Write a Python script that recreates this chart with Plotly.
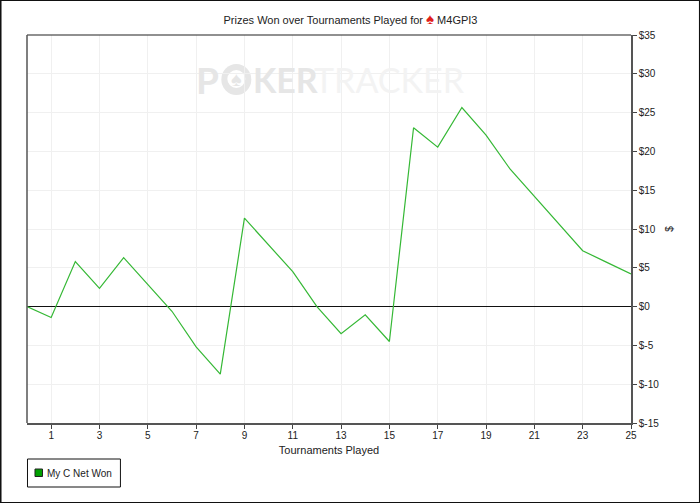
import plotly.graph_objects as go

tournaments = list(range(26))
net_won = [0, -1.4, 5.8, 2.35, 6.3, 2.9, -0.6, -5.2, -8.7, 11.4, 8.0, 4.5, 0, -3.5, -1.05,
           -4.5, 23.05, 20.55, 25.65, 22.1, 17.7, 14.2, 10.7, 7.2, 5.7, 4.2]
x_ticks = list(range(1, 26, 2))
y_ticks = list(range(-15, 40, 5))
y_labels = [f"$-{abs(v)}" if v < 0 else f"${v}" for v in y_ticks]
series_name = "My C Net Won"

FONT = "Liberation Sans"
W, H = 700, 503
L, R, T, B = 26.5, 631, 35, 423


def px(x):
    return (x - L) / (R - L)


def py(y):
    return (B - y) / (B - T)


def rect(x0, y0, x1, y1, **kw):
    return dict(type="rect", xref="paper", yref="paper", x0=px(x0), x1=px(x1),
                y0=py(y1), y1=py(y0), **kw)


fig = go.Figure()
fig.add_trace(go.Scatter(x=tournaments, y=net_won, mode="lines", name=series_name, showlegend=False,
                         line=dict(color="#35b835", width=1.2), hoverinfo="skip"))

WM_Y = py(79)
WM_DARK = "#e6e6e6"
WM_LIGHT = "#f3f3f3"
wm = dict(xref="paper", yref="paper", y=WM_Y, xanchor="left", yanchor="middle", showarrow=False)

fig.update_layout(
    width=W, height=H, autosize=False,
    margin=dict(l=L, r=W - R, t=T, b=H - B),
    paper_bgcolor="white", plot_bgcolor="white",
    showlegend=False,
    font=dict(family=FONT, size=10, color="#222222"),
    title=dict(text='Prizes Won over Tournaments Played for '
                    '<span style="color:#e0201b;font-size:15px">♠</span> M4GPI3',
               x=350.5 / W, xanchor="center", y=1 - 20 / H, yanchor="middle", font=dict(size=11)),
    xaxis=dict(range=[0, 25], tickvals=x_ticks, ticks="outside", ticklen=4, tickcolor="#444444",
               ticklabelstandoff=-2,
               showgrid=True, gridcolor="#f0f0f0", gridwidth=1, zeroline=False,
               showline=True, linecolor="#555555", linewidth=1.5,
               title=dict(text="Tournaments Played", standoff=7, font=dict(size=11))),
    yaxis=dict(range=[-15, 35], tickvals=y_ticks, ticktext=y_labels, side="right",
               ticks="outside", ticklen=4, tickcolor="#444444",
               showgrid=True, gridcolor="#f0f0f0", gridwidth=1,
               zeroline=True, zerolinecolor="#111111", zerolinewidth=1,
               showline=True, linecolor="#555555", linewidth=1.5,
               title=dict(text="$", standoff=8, font=dict(size=10))),
    annotations=[
        dict(text="<b>P</b>", x=px(194), font=dict(size=37, color=WM_DARK, family="Lato"), **wm),
        dict(text="<b>KER</b>", x=px(251), font=dict(size=34, color=WM_DARK, family="Lato"), **wm),
        dict(text="TRACKER", x=px(312), font=dict(size=34, color=WM_LIGHT, family="Lato"), **wm),
        dict(text="♠", xref="paper", yref="paper", x=px(236), y=WM_Y, xanchor="center", yanchor="middle",
             showarrow=False, font=dict(size=20, color=WM_DARK)),
        dict(text=series_name, xref="paper", yref="paper", x=px(46), y=py(473), xanchor="left",
             yanchor="middle", showarrow=False, xshift=-1, font=dict(size=10, color="#222222")),
    ],
    shapes=[
        dict(type="circle", xref="paper", yref="paper", x0=px(221), x1=px(251), y0=py(95), y1=py(64),
             fillcolor=WM_DARK, line=dict(width=0), layer="below"),
        dict(type="circle", xref="paper", yref="paper", x0=px(227), x1=px(245), y0=py(88), y1=py(70),
             fillcolor="white", line=dict(width=0), layer="below"),
        rect(0, 0, W, H, line=dict(color="#111111", width=2), layer="above"),
        dict(type="line", xref="paper", yref="paper", x0=0, x1=1, y0=1, y1=1,
             line=dict(color="#222222", width=1.2)),
        dict(type="line", xref="paper", yref="paper", x0=0, x1=0, y0=0, y1=1,
             line=dict(color="#555555", width=1.5)),
        rect(27, 459, 120, 487, line=dict(color="#111111", width=1), fillcolor="white"),
        rect(34.5, 469, 42, 476.5, line=dict(color="#222222", width=1), fillcolor="#00a000"),
    ],
)
fig.write_html("out.html", config=dict(displayModeBar=False),
               post_script="document.body.style.margin='0';")
